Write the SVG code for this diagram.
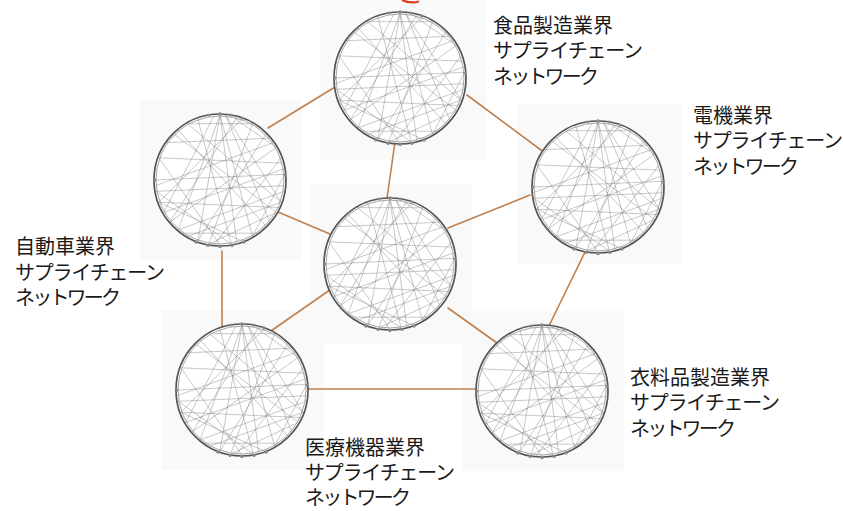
<svg xmlns="http://www.w3.org/2000/svg" xmlns:xlink="http://www.w3.org/1999/xlink" width="843" height="511" viewBox="0 0 843 511">
<style>
.bg{fill:#f9f9f9}
.lbl{font-family:"Liberation Sans","Noto Sans CJK JP",sans-serif;font-size:20px;fill:#1a1a1a}
.conn line{stroke:#c0814f;stroke-width:1.6;stroke-linecap:round}
.chord line{stroke:#6e6e6e;stroke-opacity:.42;stroke-width:.9}
</style>
<defs>
<g id="net">
<circle r="66" fill="#ffffff"/>
<g class="chord">
<line x1="0" y1="-65" x2="-22.2" y2="61.1"/>
<line x1="0" y1="-65" x2="16.8" y2="62.8"/>
<line x1="0" y1="-65" x2="-41.8" y2="49.8"/>
<line x1="0" y1="-65" x2="32.5" y2="56.3"/>
<line x1="-5.7" y1="-64.7" x2="-56.3" y2="32.5"/>
<line x1="5.7" y1="-64.7" x2="49.8" y2="41.8"/>
<line x1="-61.1" y1="-22.2" x2="62.8" y2="-16.8"/>
<line x1="-65" y1="0" x2="64.7" y2="-5.7"/>
<line x1="-64" y1="11.3" x2="64.7" y2="5.7"/>
<line x1="-41.8" y1="-49.8" x2="46" y2="46"/>
<line x1="-32.5" y1="-56.3" x2="61.1" y2="22.2"/>
<line x1="56.3" y1="-32.5" x2="-49.8" y2="41.8"/>
<line x1="64" y1="-11.3" x2="-56.3" y2="32.5"/>
<line x1="61.1" y1="22.2" x2="-32.5" y2="56.3"/>
<line x1="32.5" y1="-56.3" x2="-11.3" y2="64"/>
<line x1="22.2" y1="-61.1" x2="-61.1" y2="22.2"/>
<line x1="-22.2" y1="-61.1" x2="11.3" y2="64"/>
<line x1="-53.2" y1="-37.3" x2="49.8" y2="-41.8"/>
<line x1="-61.1" y1="-22.2" x2="0" y2="65"/>
<line x1="-61.1" y1="22.2" x2="22.2" y2="61.1"/>
<line x1="46" y1="-46" x2="-22.2" y2="61.1"/>
<line x1="61.1" y1="-22.2" x2="-5.7" y2="64.7"/>
<line x1="56.3" y1="32.5" x2="-11.3" y2="64"/>
<line x1="64.7" y1="-5.7" x2="32.5" y2="56.3"/>
<line x1="64" y1="11.3" x2="-41.8" y2="49.8"/>
<line x1="-37.3" y1="53.2" x2="37.3" y2="53.2"/>
<line x1="-64" y1="11.3" x2="11.3" y2="64"/>
<line x1="16.8" y1="-62.8" x2="-49.8" y2="41.8"/>
<line x1="53.2" y1="-37.3" x2="-64.7" y2="5.7"/>
<line x1="58.9" y1="27.5" x2="-61.1" y2="22.2"/>
<line x1="-32.5" y1="-56.3" x2="32.5" y2="-56.3"/>
<line x1="11.3" y1="-64" x2="56.3" y2="-32.5"/>
<line x1="5.7" y1="-64.7" x2="61.1" y2="22.2"/>
<line x1="-46" y1="-46" x2="56.3" y2="32.5"/>
</g>
<circle r="64" fill="none" stroke="#a5a5a5" stroke-width="1"/>
<circle r="66" fill="none" stroke="#555555" stroke-width="1.7"/>
<g fill="#8a8a8a">
<circle cx="24" cy="62" r="1.8"/><circle cx="0" cy="66.5" r="1.8"/><circle cx="-24" cy="62" r="1.8"/><circle cx="-12" cy="65.5" r="1.6"/><circle cx="12" cy="65.5" r="1.6"/>
<circle cx="0" cy="-66" r="1.8"/><circle cx="-11" cy="-65" r="1.5"/><circle cx="11" cy="-65" r="1.5"/><circle cx="22" cy="-62" r="1.5"/><circle cx="-65" cy="0" r="1.5"/><circle cx="65" cy="-5" r="1.5"/>
</g>
</g>
</defs>

<g id="bg-rects">
<rect class="bg" x="320" y="0" width="166" height="160"/>
<rect class="bg" x="140" y="100" width="162" height="160"/>
<rect class="bg" x="517" y="104" width="164" height="160"/>
<rect class="bg" x="162" y="310" width="162" height="160"/>
<rect class="bg" x="462" y="311" width="162" height="160"/>
<rect class="bg" x="310" y="184" width="162" height="160"/>
</g>

<path d="M402 0 Q410 4 419 1.5" fill="none" stroke="#e03a20" stroke-width="2.2"/>

<g id="connectors" class="conn">
<line x1="268" y1="128" x2="335" y2="87"/>
<line x1="467" y1="95" x2="545" y2="153"/>
<line x1="395" y1="142" x2="387" y2="198"/>
<line x1="278" y1="212" x2="337" y2="237"/>
<line x1="448" y1="228" x2="530" y2="195"/>
<line x1="222" y1="251" x2="222" y2="333"/>
<line x1="337" y1="285" x2="268" y2="333"/>
<line x1="448" y1="308" x2="497" y2="343"/>
<line x1="585" y1="252" x2="547" y2="330"/>
<line x1="301" y1="389" x2="475" y2="389"/>
</g>

<g id="node-food">
<use xlink:href="#net" href="#net" x="400" y="78"/>
<text class="lbl"><tspan x="493" y="33">食品製造業界</tspan><tspan x="493" y="58" textLength="150" lengthAdjust="spacing">サプライチェーン</tspan><tspan x="493" y="84" textLength="106" lengthAdjust="spacing">ネットワーク</tspan></text>
</g>

<g id="node-auto">
<use xlink:href="#net" href="#net" x="220" y="180"/>
<text class="lbl"><tspan x="15" y="254">自動車業界</tspan><tspan x="15" y="280" textLength="150" lengthAdjust="spacing">サプライチェーン</tspan><tspan x="15" y="305" textLength="106" lengthAdjust="spacing">ネットワーク</tspan></text>
</g>

<g id="node-electric">
<use xlink:href="#net" href="#net" x="598" y="187"/>
<text class="lbl"><tspan x="693" y="123">電機業界</tspan><tspan x="693" y="148" textLength="150" lengthAdjust="spacing">サプライチェーン</tspan><tspan x="693" y="174" textLength="106" lengthAdjust="spacing">ネットワーク</tspan></text>
</g>

<g id="node-center">
<use xlink:href="#net" href="#net" x="390" y="264"/>
</g>

<g id="node-medical">
<use xlink:href="#net" href="#net" x="242" y="390"/>
<text class="lbl"><tspan x="305" y="455">医療機器業界</tspan><tspan x="305" y="480" textLength="150" lengthAdjust="spacing">サプライチェーン</tspan><tspan x="305" y="505" textLength="106" lengthAdjust="spacing">ネットワーク</tspan></text>
</g>

<g id="node-clothing">
<use xlink:href="#net" href="#net" x="542" y="391"/>
<text class="lbl"><tspan x="630" y="385">衣料品製造業界</tspan><tspan x="630" y="410" textLength="150" lengthAdjust="spacing">サプライチェーン</tspan><tspan x="630" y="436" textLength="106" lengthAdjust="spacing">ネットワーク</tspan></text>
</g>
</svg>
